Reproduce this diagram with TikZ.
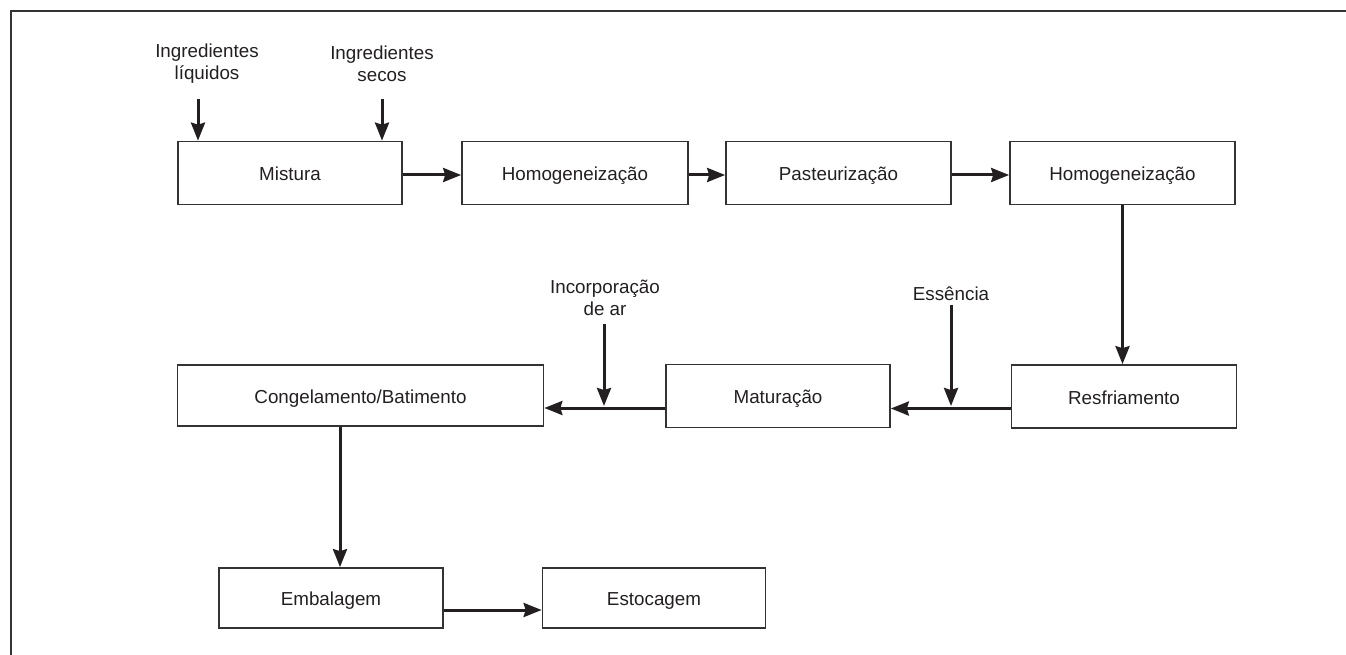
\documentclass[tikz,border=0pt]{standalone}
\usepackage{fontspec}
\setmainfont{Liberation Sans}
\usetikzlibrary{arrows.meta}
\definecolor{ink}{HTML}{231F20}
\definecolor{boxc}{HTML}{333333}
\begin{document}
\begin{tikzpicture}[x=1pt,y=-1pt,
  every node/.style={font=\fontsize{18.8}{22}\selectfont, text=ink},
  stepbox/.style={draw=boxc, line width=1.7pt, rectangle, minimum height=63pt, inner sep=0pt, text height=15pt, text depth=0pt},
  lbl/.style={align=center, inner sep=0pt},
  arr/.style={draw=ink, line width=3pt, -{Stealth[length=18pt,width=14pt,inset=2pt]}},
  frame/.style={draw=boxc, line width=1.5pt}]
\useasboundingbox (0,0) rectangle (1346,655);
\draw[frame] (1346,11) -- (11,11) -- (11,655);

% row 1
\node[stepbox, minimum width=224pt] (mist) at (290,173) {Mistura};
\node[stepbox, minimum width=226pt] (hom1) at (575,173) {Homogeneização};
\node[stepbox, minimum width=225pt] (past) at (838.5,173) {Pasteurização};
\node[stepbox, minimum width=225pt] (hom2) at (1122.5,173) {Homogeneização};
% row 2
\node[stepbox, minimum width=225pt] (resf) at (1124,396.5) {Resfriamento};
\node[stepbox, minimum width=224pt] (matu) at (778,396) {Maturação};
\node[stepbox, minimum width=366pt, minimum height=61pt] (cong) at (360.5,395.5) {Congelamento/Batimento};
% row 3
\node[stepbox, minimum width=224pt, minimum height=60pt] (emba) at (331,598) {Embalagem};
\node[stepbox, minimum width=223pt, minimum height=60pt] (esto) at (654,598) {Estocagem};

% input labels
\node[lbl] (ingl) at (207,64) {Ingredientes\\líquidos};
\node[lbl] (ings) at (382,64) {Ingredientes\\secos};
\node[lbl] (inca) at (605,298) {Incorporação\\de ar};
\node[lbl] (esse) at (951,294) {Essência};

\coordinate (cl) at (198,99);
\coordinate (cs) at (382,99);
\coordinate (ca) at (604,324);
\coordinate (ce) at (951,305);
\coordinate (ja) at (604,406);
\coordinate (je) at (951,406);

% connectors
\draw[arr] (cl) -- (cl |- mist.north);
\draw[arr] (cs) -- (cs |- mist.north);
\draw[arr] ([yshift=-2pt]mist.east) -- ([yshift=-2pt]hom1.west);
\draw[arr] ([yshift=-2pt]hom1.east) -- ([yshift=-2pt]past.west);
\draw[arr] ([yshift=-2pt]past.east) -- ([yshift=-2pt]hom2.west);
\draw[arr] (hom2.south) -- (hom2.south |- resf.north);
\draw[arr] ([yshift=-12pt]resf.west) -- ([yshift=-12pt]resf.west -| matu.east);
\draw[arr] (ce) -- (je);
\draw[arr] ([yshift=-12pt]matu.west) -- ([yshift=-12pt]matu.west -| cong.east);
\draw[arr] (ca) -- (ja);
\draw[arr] (cong.south -| 340,0) -- (emba.north -| 340,0);
\draw[arr] ([yshift=-12pt]emba.east) -- ([yshift=-12pt]esto.west);
\end{tikzpicture}
\end{document}
